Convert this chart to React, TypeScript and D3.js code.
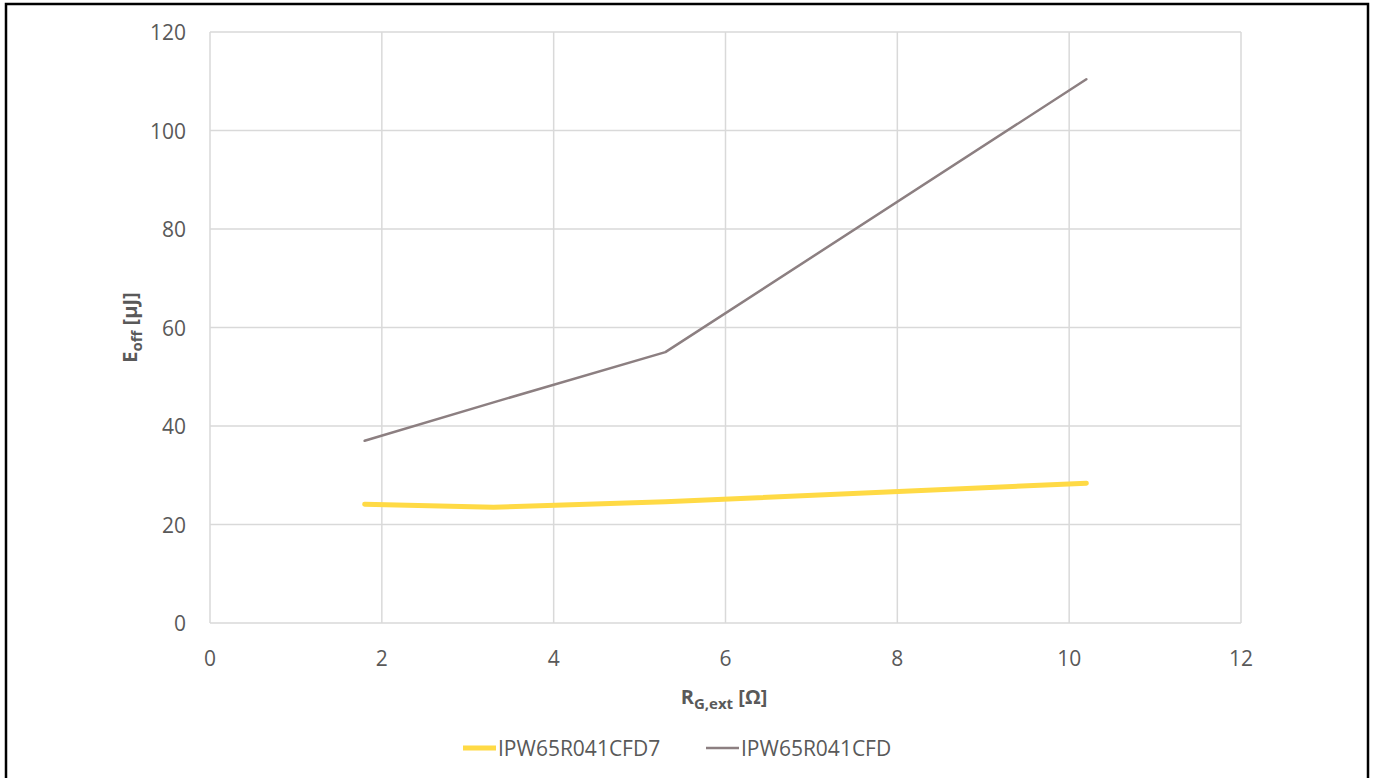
import React from "react";
import * as d3 from "d3";

// Gate resistance R_G,ext [Ω] and turn-off energy E_off [µJ]
const rgValues = [1.8, 3.3, 5.3, 10.2];
const eoffCFD7 = [24.1, 23.5, 24.6, 28.4];
const eoffCFD = [37.0, 44.8, 55.0, 110.4];

const seriesNames = ["IPW65R041CFD7", "IPW65R041CFD"];
const seriesColors = ["#FFDA45", "#8C7F81"];
const seriesWidths = [5, 2.5];

const xTicks = [0, 2, 4, 6, 8, 10, 12];
const yTicks = [0, 20, 40, 60, 80, 100, 120];

const W = 1373;
const H = 778;
const font = "'Open Sans', 'Liberation Sans', sans-serif";
const textColor = "#595959";

export default function App() {
  const x = d3.scaleLinear().domain([0, 12]).range([210, 1241]);
  const y = d3.scaleLinear().domain([0, 120]).range([623, 32]);

  const line = d3
    .line<[number, number]>()
    .x((d) => x(d[0]))
    .y((d) => y(d[1]));

  const series = [eoffCFD7, eoffCFD].map((vals) =>
    rgValues.map((r, i) => [r, vals[i]] as [number, number])
  );

  return (
    <svg
      width={W}
      height={H}
      style={{ position: "absolute", left: 0, top: 0, background: "#fff" }}
    >
      <rect x={0} y={0} width={W} height={H} fill="#fff" />
      {/* outer frame */}
      <rect x={6} y={4} width={1362} height={H + 10} fill="none" stroke="#000" strokeWidth={2.5} />

      {/* gridlines */}
      {yTicks.map((t) => (
        <line key={"gy" + t} x1={x(0)} x2={x(12)} y1={y(t)} y2={y(t)} stroke="#D9D9D9" strokeWidth={1.5} />
      ))}
      {xTicks.map((t) => (
        <line key={"gx" + t} x1={x(t)} x2={x(t)} y1={y(0)} y2={y(120)} stroke="#D9D9D9" strokeWidth={1.5} />
      ))}

      {/* tick labels */}
      {yTicks.map((t) => (
        <text key={"ty" + t} x={186} y={y(t)} textAnchor="end" dominantBaseline="central" fontFamily={font} fontSize={21} fill={textColor}>
          {t}
        </text>
      ))}
      {xTicks.map((t) => (
        <text key={"tx" + t} x={x(t)} y={658} textAnchor="middle" dominantBaseline="central" fontFamily={font} fontSize={21} fill={textColor}>
          {t}
        </text>
      ))}

      {/* series */}
      {series.map((pts, i) => (
        <path
          key={seriesNames[i]}
          d={line(pts) || ""}
          fill="none"
          stroke={seriesColors[i]}
          strokeWidth={seriesWidths[i]}
          strokeLinecap="round"
          strokeLinejoin="round"
        />
      ))}

      {/* axis titles */}
      <text x={724} y={704} textAnchor="middle" fontFamily={font} fontSize={20} fontWeight="bold" fill={textColor}>
        R<tspan fontSize={15} dy={5}>G,ext</tspan>
        <tspan dy={-5}> [Ω]</tspan>
      </text>
      <text
        transform={`translate(137, ${y(60)}) rotate(-90)`}
        textAnchor="middle"
        fontFamily={font}
        fontSize={20}
        fontWeight="bold"
        fill={textColor}
      >
        E<tspan fontSize={15} dy={5}>off</tspan>
        <tspan dy={-5}> [µJ]</tspan>
      </text>

      {/* legend */}
      {seriesNames.map((name, i) => {
        const lx = [463, 706][i];
        return (
          <g key={"lg" + name}>
            <line x1={lx} x2={lx + 33} y1={748} y2={748} stroke={seriesColors[i]} strokeWidth={seriesWidths[i]} />
            <text x={lx + 35} y={748} dominantBaseline="central" fontFamily={font} fontSize={21} fill={textColor}>
              {name}
            </text>
          </g>
        );
      })}
    </svg>
  );
}
